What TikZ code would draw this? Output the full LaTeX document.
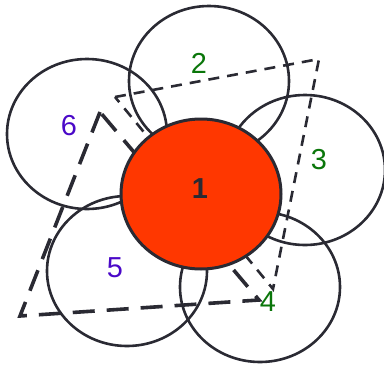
\documentclass[tikz,border=0pt]{standalone}
\usepackage{fontspec}
\setmainfont{Liberation Sans}
\usepackage{tikz}
\usetikzlibrary{shapes.geometric}
\usepackage{xcolor}
\definecolor{ink}{HTML}{2A2A33}
\definecolor{core}{HTML}{FF3700}
\definecolor{leafgreen}{HTML}{0A760A}
\definecolor{leafviolet}{HTML}{4A08C8}
\tikzset{
  ring/.style={draw=ink,ellipse,line width=2.6bp,inner sep=0pt,
    minimum width=160bp,minimum height=150bp},
  centre/.style={ring,fill=core,line width=3bp},
  num/.style={font=\fontsize{29}{30}\selectfont,inner sep=0pt},
  shortdash/.style={draw=ink,line width=2.6bp,dash pattern=on 11bp off 8bp},
  longdash/.style={draw=ink,line width=3.6bp,dash pattern=on 22bp off 12bp}
}

\begin{document}
\begin{tikzpicture}[x=1bp,y=-1bp]
      \useasboundingbox (0,0) rectangle (384,365);
      % dashed triangles
      \coordinate (sa) at (115,97);
      \coordinate (sb) at (319,59);
      \coordinate (sc) at (273,289);
      \coordinate (la) at (100,112);
      \coordinate (lb) at (20,316);
      \coordinate (lc) at (259,300);
      \draw[shortdash] (sa)--(sb)--(sc)--cycle;
      \draw[longdash] (la)--(lb)--(lc)--cycle;
      % neighbours
      \node[ring] (c2) at (209,81) {};
      \node[ring] (c3) at (305,170) {};
      \node[ring] (c4) at (260,287) {};
      \node[ring] (c5) at (127,271) {};
      \node[ring] (c6) at (87,134) {};
      \node[centre] (c1) at (201,194) {};
      % labels
      \node[num,text=ink,font=\fontsize{29}{30}\selectfont\bfseries] (n1) at (200,189) {1};
      \node[num,text=leafgreen] (n2) at (199,63) {2};
      \node[num,text=leafgreen] (n3) at (319,160) {3};
      \node[num,text=leafgreen] (n4) at (268,302) {4};
      \node[num,text=leafviolet] (n5) at (115,268) {5};
      \node[num,text=leafviolet] (n6) at (69,126) {6};
    \end{tikzpicture}
\end{document}
